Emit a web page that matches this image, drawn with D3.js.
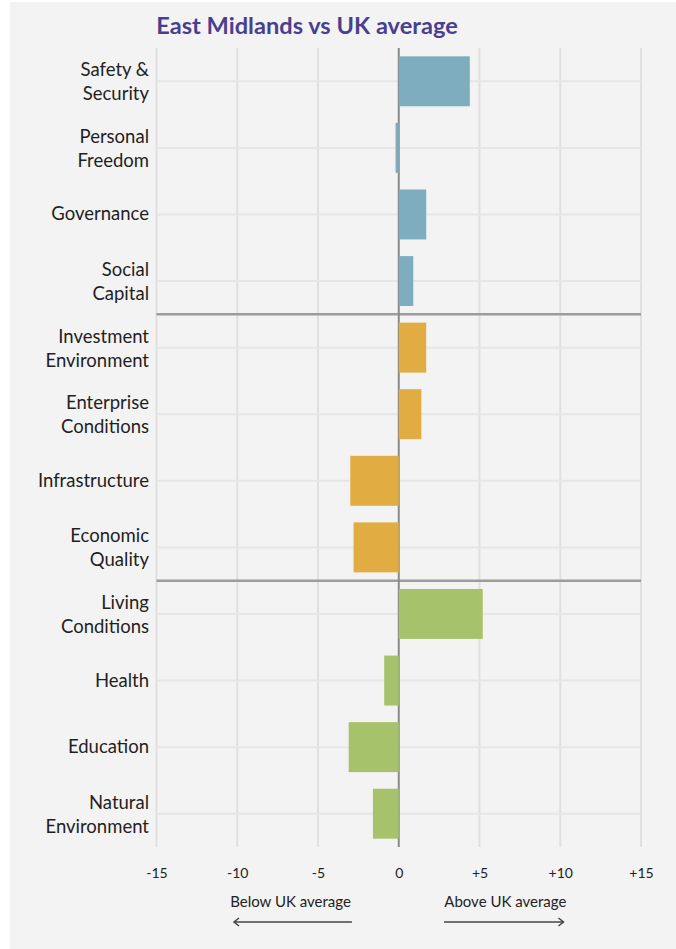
<!DOCTYPE html>
<html>
<head>
<meta charset="utf-8">
<script src="https://cdn.jsdelivr.net/npm/d3@7"></script>
<style>
  html, body { margin: 0; padding: 0; background: #ffffff; }
  svg { display: block; }
  text { font-family: Lato, "Open Sans", sans-serif; }
</style>
</head>
<body>
<svg id="chart" width="676" height="949"></svg>
<script>
// Pillar categories, top to bottom (each label may wrap to two lines)
const categories = [
  ["Safety &", "Security"],
  ["Personal", "Freedom"],
  ["Governance"],
  ["Social", "Capital"],
  ["Investment", "Environment"],
  ["Enterprise", "Conditions"],
  ["Infrastructure"],
  ["Economic", "Quality"],
  ["Living", "Conditions"],
  ["Health"],
  ["Education"],
  ["Natural", "Environment"]
];
// Difference from UK average, per pillar
const values = [4.4, -0.2, 1.7, 0.9, 1.7, 1.4, -3.0, -2.8, 5.2, -0.9, -3.1, -1.6];
// Domain group of each pillar: 0 = institutions, 1 = economy, 2 = people
const groups = [0, 0, 0, 0, 1, 1, 1, 1, 2, 2, 2, 2];
const groupColors = ["#7fadc0", "#e1ac42", "#a6c26a"];
const tickValues = [-15, -10, -5, 0, 5, 10, 15];
const tickLabels = ["-15", "-10", "-5", "0", "+5", "+10", "+15"];

const svg = d3.select("#chart");

// panel background
svg.append("rect").attr("x", 10).attr("y", 2).attr("width", 666).attr("height", 947)
  .attr("fill", "#f3f3f3");

const plotTop = 48, plotBottom = 847;
const x = d3.scaleLinear().domain([-15, 15]).range([156.5, 641]);
const y = d3.scaleBand().domain(d3.range(categories.length)).range([plotTop, plotBottom])
  .paddingInner(0.25).paddingOuter(0.125);
const rowY = i => y(i) + y.bandwidth() / 2;

// title
svg.append("text").attr("x", 307).attr("y", 34).attr("text-anchor", "middle")
  .attr("fill", "#4a3f8e").attr("font-size", 23.6).attr("font-weight", 700)
  .text("East Midlands vs UK average");

// vertical grid lines
svg.append("g").selectAll("line").data(tickValues.filter(d => d !== 0)).join("line")
  .attr("x1", d => x(d)).attr("x2", d => x(d)).attr("y1", plotTop).attr("y2", plotBottom)
  .attr("stroke", "#e0e0e0").attr("stroke-width", 2);

// horizontal row lines
svg.append("g").selectAll("line").data(d3.range(categories.length)).join("line")
  .attr("x1", x(-15)).attr("x2", x(15)).attr("y1", rowY).attr("y2", rowY)
  .attr("stroke", "#e6e6e6").attr("stroke-width", 2);

// group separators
const seps = [3.5, 7.5];
const sepY = d => (rowY(Math.floor(d)) + rowY(Math.ceil(d))) / 2;
svg.append("g").selectAll("line").data(seps).join("line")
  .attr("x1", x(-15)).attr("x2", x(15))
  .attr("y1", sepY).attr("y2", sepY)
  .attr("stroke", "#9c9c9c").attr("stroke-width", 2.5);

// zero line
svg.append("line").attr("x1", x(0)).attr("x2", x(0)).attr("y1", plotTop).attr("y2", plotBottom)
  .attr("stroke", "#8a8a8a").attr("stroke-width", 2);

// bars
svg.append("g").selectAll("rect").data(values).join("rect")
  .attr("x", d => x(Math.min(0, d)))
  .attr("width", d => Math.abs(x(d) - x(0)))
  .attr("y", (d, i) => y(i))
  .attr("height", y.bandwidth())
  .attr("fill", (d, i) => groupColors[groups[i]]);

// category labels
const lab = svg.append("g").selectAll("text").data(categories).join("text")
  .attr("text-anchor", "end").attr("fill", "#1f1f1f").attr("font-size", 18.5);
lab.each(function(lines, i) {
  const t = d3.select(this);
  const c = rowY(i);
  if (lines.length === 1) {
    t.append("tspan").attr("x", 149).attr("y", c + 6).text(lines[0]);
  } else {
    t.append("tspan").attr("x", 149).attr("y", c - 5).text(lines[0]);
    t.append("tspan").attr("x", 149).attr("y", c + 19).text(lines[1]);
  }
});

// x axis tick labels
const axis = d3.axisBottom(x).tickValues(tickValues)
  .tickFormat((d, i) => tickLabels[i]).tickSize(0).tickPadding(0);
const ax = svg.append("g").attr("transform", "translate(0,868)").call(axis);
ax.select(".domain").remove();
ax.selectAll("text").attr("font-size", 14).attr("fill", "#222")
  .attr("font-family", "Lato, 'Open Sans', sans-serif");

// direction notes with arrows
const notes = [
  { text: "Below UK average", from: -2.9, to: -10.2, cx: -6.7 },
  { text: "Above UK average", from: 2.8, to: 10.2, cx: 6.6 }
];
const ng = svg.append("g");
notes.forEach(n => {
  ng.append("text").attr("x", x(n.cx)).attr("y", 907).attr("text-anchor", "middle")
    .attr("font-size", 15).attr("fill", "#222").text(n.text);
  const y0 = 922, dir = Math.sign(n.to - n.from);
  ng.append("line").attr("x1", x(n.from)).attr("x2", x(n.to)).attr("y1", y0).attr("y2", y0)
    .attr("stroke", "#444").attr("stroke-width", 1.5);
  ng.append("path")
    .attr("d", `M${x(n.to) - dir * 5},${y0 - 4} L${x(n.to)},${y0} L${x(n.to) - dir * 5},${y0 + 4}`)
    .attr("fill", "none").attr("stroke", "#444").attr("stroke-width", 1.5);
});
</script>
</body>
</html>
